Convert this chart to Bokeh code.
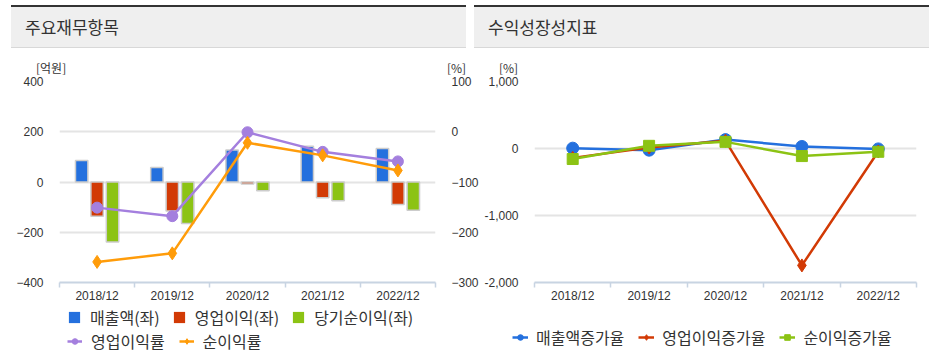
from bokeh.plotting import figure
from bokeh.models import (Range1d, LinearAxis, FixedTicker, NumeralTickFormatter, Legend,
                          LegendItem, Div, ColumnDataSource)
from bokeh.layouts import row, column
from bokeh.transform import dodge
from bokeh.embed import file_html
from bokeh.resources import INLINE

# ---------------- data ----------------
periods = ["2018/12", "2019/12", "2020/12", "2021/12", "2022/12"]

revenue = [86, 58, 127, 142, 133]          # 매출액(좌) [억원]
op_income = [-136, -115, -8, -63, -90]     # 영업이익(좌)
net_income = [-239, -165, -35, -75, -112]  # 당기순이익(좌)
op_margin = [-151, -168, -1, -40, -59]     # 영업이익률 [%]
net_margin = [-259, -242, -22, -47, -77]   # 순이익률 [%]

rev_growth = [5, -25, 133, 30, -6]         # 매출액증가율 [%]
op_growth = [-140, 15, 115, -1745, -45]    # 영업이익증가율
net_growth = [-157, 40, 99, -113, -49]     # 순이익증가율

left_ticks = [-400, -200, 0, 200, 400]
right_ticks = [-300, -200, -100, 0, 100]
growth_ticks = [-2000, -1000, 0, 1000]

FONT = "Noto Sans CJK KR"
NUMFONT = "Liberation Sans"
TXT = "#333333"
GRID = "#e4e4e4"
AXIS = "#c8d4e2"
SHADOW = "#cccccc"

BLUE = "#2470de"
RED = "#d23a05"
GREEN = "#8cc314"
PURPLE = "#a47fde"
ORANGE = "#ff9c0a"

xs = list(range(len(periods)))
labels_map = {i: periods[i] for i in xs}
bounds = [i - 0.5 for i in range(len(periods) + 1)]


def header(text, ml):
    html = ('<div style="box-sizing:border-box;width:455px;height:43px;background:#efefef;'
            'border-top:2px solid #333;border-bottom:1px solid #d8d8d8;padding-left:14px;'
            "font-family:'Noto Sans CJK KR';font-size:17px;color:#333;line-height:40px;"
            'white-space:nowrap;">%s</div>' % text)
    return Div(text=html, width=455, height=43, margin=(5, 0, 0, ml))


def bottom_line(ml):
    html = '<div style="width:455px;height:2px;background:#c8c8c8;"></div>'
    return Div(text=html, width=455, height=2, margin=(0, 0, 0, ml))


def unit_span(text, left):
    return ('<span style="position:absolute;left:%dpx;top:13px;font-family:\'Noto Sans CJK KR\';'
            'font-size:12px;line-height:13px;color:#333;white-space:nowrap;">%s</span>' % (left, text))


def style_axis_labels(ax):
    ax.major_label_text_font = NUMFONT
    ax.major_label_text_font_size = "12px"
    ax.major_label_text_color = TXT


def style_common(p):
    p.outline_line_color = None
    p.background_fill_color = "white"
    p.border_fill_color = "white"
    xa = p.xaxis[0]
    xa.ticker = FixedTicker(ticks=xs, minor_ticks=bounds)
    xa.major_label_overrides = labels_map
    xa.axis_line_color = AXIS
    xa.axis_line_width = 2
    xa.major_tick_line_color = None
    xa.major_tick_out = 0
    xa.major_tick_in = 0
    xa.minor_tick_line_color = AXIS
    xa.minor_tick_line_width = 1.5
    xa.minor_tick_out = 5
    xa.minor_tick_in = 0
    xa.major_label_standoff = 1
    style_axis_labels(xa)
    ya = p.yaxis[0]
    ya.axis_line_color = None
    ya.major_tick_line_color = None
    ya.minor_tick_line_color = None
    ya.major_label_standoff = 10
    style_axis_labels(ya)
    p.xgrid.grid_line_color = None
    p.ygrid.grid_line_color = GRID
    p.ygrid.grid_line_width = 2


def legend(items, loc, gw, gh, standoff, spacing):
    lg = Legend(items=items, location=loc, orientation="horizontal")
    lg.glyph_width = gw
    lg.glyph_height = gh
    lg.label_standoff = standoff
    lg.spacing = spacing
    lg.padding = 0
    lg.margin = 0
    lg.border_line_color = None
    lg.background_fill_alpha = 0
    lg.label_text_font = FONT
    lg.label_text_font_size = "16px"
    lg.label_text_color = TXT
    lg.label_height = 16
    return lg


def legend_fig(width, height):
    # strip that only holds a legend; its ranges keep the swatch renderers out of view
    f = figure(width=width, height=height, x_range=Range1d(-100, -99), y_range=Range1d(-100, -99),
               x_axis_type=None, y_axis_type=None, output_backend="svg", toolbar_location=None,
               min_border=0, min_border_left=0, min_border_right=0,
               min_border_top=0, min_border_bottom=0)
    f.outline_line_color = None
    f.xgrid.grid_line_color = None
    f.ygrid.grid_line_color = None
    f.background_fill_color = "white"
    f.border_fill_color = "white"
    return f


CHART_H = 231
LEG_H = 48

# ---------------- left chart ----------------
p1 = figure(width=481, height=CHART_H, x_range=Range1d(-0.5, 4.5), y_range=Range1d(-400, 400),
            output_backend="svg", toolbar_location=None,
            min_border_top=7, min_border_bottom=20, min_border_left=59, min_border_right=44)
p1.extra_y_ranges = {"pct": Range1d(-300, 100)}
style_common(p1)
p1.yaxis[0].ticker = FixedTicker(ticks=left_ticks)

ax_r = LinearAxis(y_range_name="pct", ticker=FixedTicker(ticks=right_ticks))
ax_r.axis_line_color = None
ax_r.major_tick_line_color = None
ax_r.minor_tick_line_color = None
ax_r.major_label_standoff = 10
style_axis_labels(ax_r)
p1.add_layout(ax_r, "right")

src = ColumnDataSource(dict(x=xs, rev=revenue, op=op_income, net=net_income,
                            opm=op_margin, nm=net_margin))
bw = 0.165
off = 0.205
bar_styles = [("rev", -off, BLUE), ("op", 0, RED), ("net", off, GREEN)]
for col, o, c in bar_styles:
    p1.vbar(x=dodge("x", o), top=col, bottom=0, width=bw, source=src,
            fill_color=c, line_color=SHADOW, line_width=1.5)

line_styles1 = [("opm", PURPLE, "circle", 11), ("nm", ORANGE, "diamond", 13)]
for col, c, m, s in line_styles1:
    p1.line("x", col, source=src, y_range_name="pct", line_color=c, line_width=2.5)
    p1.scatter("x", col, source=src, y_range_name="pct", marker=m, size=s,
               fill_color=c, line_color=c)

# legend strip for the left chart
lf1 = legend_fig(481, LEG_H)
swA = [lf1.vbar(x="x", top=col, width=bw, source=src, fill_color=c, line_color=None)
       for col, _, c in bar_styles]
swB = [[lf1.line("x", col, source=src, line_color=c, line_width=2.5),
        lf1.scatter("x", col, source=src, marker=m, size=s, fill_color=c, line_color=c)]
       for col, c, m, s in line_styles1]

lgA = legend([LegendItem(label="매출액(좌)", renderers=[swA[0]]),
              LegendItem(label="영업이익(좌)", renderers=[swA[1]]),
              LegendItem(label="당기순이익(좌)", renderers=[swA[2]])],
             (67, 24), 14, 14, 9, 12)
lgB = legend([LegendItem(label="영업이익률", renderers=swB[0]),
              LegendItem(label="순이익률", renderers=swB[1])],
             (67, 0), 15, 14, 9, 14)
lf1.add_layout(lgA)
lf1.add_layout(lgB)

# ---------------- right chart ----------------
p2 = figure(width=448, height=CHART_H, x_range=Range1d(-0.5, 4.5), y_range=Range1d(-2000, 1000),
            output_backend="svg", toolbar_location=None,
            min_border_top=7, min_border_bottom=20, min_border_left=49, min_border_right=13)
style_common(p2)
p2.yaxis[0].ticker = FixedTicker(ticks=growth_ticks)
p2.yaxis[0].formatter = NumeralTickFormatter(format="0,0")

src2 = ColumnDataSource(dict(x=xs, rg=rev_growth, og=op_growth, ng=net_growth))
line_styles2 = [("rg", BLUE, "circle", 12), ("og", RED, "diamond", 13), ("ng", GREEN, "square", 11)]
for col, c, m, s in line_styles2:
    p2.line("x", col, source=src2, line_color=c, line_width=2.5)
    p2.scatter("x", col, source=src2, marker=m, size=s, fill_color=c, line_color=c)

lf2 = legend_fig(448, LEG_H)
swC = [[lf2.line("x", col, source=src2, line_color=c, line_width=2.5),
        lf2.scatter("x", col, source=src2, marker=m, size=s, fill_color=c, line_color=c)]
       for col, c, m, s in line_styles2]
lgC = legend([LegendItem(label="매출액증가율", renderers=swC[0]),
              LegendItem(label="영업이익증가율", renderers=swC[1]),
              LegendItem(label="순이익증가율", renderers=swC[2])],
             (31, 4), 16, 14, 8, 14)
lf2.add_layout(lgC)

# ---------------- page layout ----------------
units = Div(text=('<div style="position:relative;width:929px;height:26px;">'
                  + unit_span("[억원]", 36) + unit_span("[%]", 447) + unit_span("[%]", 499)
                  + '</div>'), width=929, height=26, margin=(0, 0, 0, 0))

layout = column(
    row(header("주요재무항목", 11), header("수익성장성지표", 8)),
    units,
    row(p1, p2),
    row(lf1, lf2),
    row(bottom_line(11), bottom_line(8)),
)

open("out.html", "w").write(file_html(layout, INLINE))
